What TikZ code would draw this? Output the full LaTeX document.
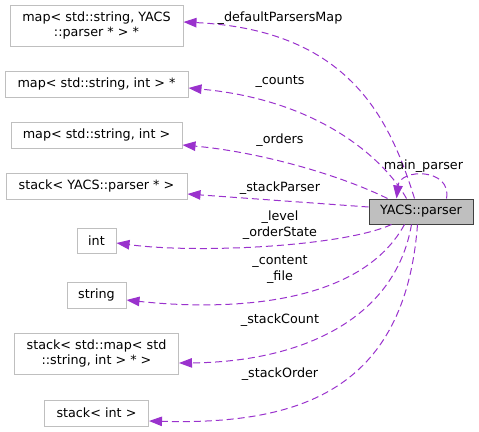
\documentclass[tikz,border=0pt]{standalone}
\usepackage{fontspec}
\setmainfont{DejaVu Sans}
\usetikzlibrary{arrows.meta, positioning}
\definecolor{edgePurple}{HTML}{9A32CD}
\definecolor{boxGray}{HTML}{BFBFBF}
\definecolor{boxDark}{HTML}{404040}

\begin{document}
\begin{tikzpicture}[x=1pt, y=-1pt,
    docfont/.style={font=\fontsize{12.75}{15.5}\selectfont},
    classnode/.style={rectangle, draw=boxGray, line width=1pt, inner sep=0pt,
                      align=center, docfont},
    mainnode/.style={classnode, draw=boxDark, fill=boxGray},
    memberedge/.style={draw=edgePurple, line width=1pt,
                       dash pattern=on 7pt off 4pt,
                       -{Triangle[length=13pt, width=9.5pt, fill=edgePurple]}},
    edgelabel/.style={docfont, inner sep=0pt, align=center},
  ]
    \useasboundingbox (0,0) rectangle (479,431);

    % ─── Member types (left column) ───
    \node[classnode, minimum width=173pt, minimum height=41pt] (mapDef) at (96.5, 25.5)
      {map< std::string, YACS\\::parser * > *};
    \node[classnode, minimum width=183pt, minimum height=26pt] (mapPtr) at (96.5, 84) {map< std::string, int > *};
    \node[classnode, minimum width=171pt, minimum height=26pt] (mapInt) at (96.5, 135) {map< std::string, int >};
    \node[classnode, minimum width=181pt, minimum height=26pt] (stackParser) at (96.5, 186) {stack< YACS::parser * >};
    \node[classnode, minimum width=39pt, minimum height=25pt] (intType) at (96.5, 240.5) {int};
    \node[classnode, minimum width=59pt, minimum height=26pt] (stringType) at (96.5, 295) {string};
    \node[classnode, minimum width=164pt, minimum height=41pt] (stackMap) at (96.5, 353.5)
      {stack< std::map< std\\::string, int > * >};
    \node[classnode, minimum width=104pt, minimum height=26pt] (stackInt) at (96.5, 413) {stack< int >};

    % ─── The class itself ───
    \node[mainnode, minimum width=104pt, minimum height=25pt] (parser) at (421, 211.5) {YACS::parser};

    % ─── Edges from the top of the class ───
    \draw[memberedge] ([xshift=46pt]parser.north west) .. controls (390,120) and (350,30) .. ([yshift=3.5pt]mapDef.east);
    \draw[memberedge] ([xshift=38pt]parser.north west) .. controls (385,160) and (320,100) .. ([yshift=-4pt]mapPtr.east);
    \draw[memberedge] ([xshift=19pt]parser.north west) .. controls (340,175) and (260,152) .. ([yshift=-10pt]mapInt.east);
    \draw[memberedge] ([yshift=4.5pt]parser.west) -- ([yshift=-8pt]stackParser.east);
    \draw[memberedge] ([xshift=78pt]parser.north west) .. controls (452,168) and (400,168) .. ([xshift=28pt]parser.north west);

    % ─── Edges from the bottom of the class ───
    \draw[memberedge] ([xshift=23pt]parser.south west) .. controls (345,246) and (200,254) .. ([yshift=-2.5pt]intType.east);
    \draw[memberedge] ([xshift=36pt]parser.south west) .. controls (355,315) and (200,308) .. ([yshift=-5pt]stringType.east);
    \draw[memberedge] ([xshift=43pt]parser.south west) .. controls (395,320) and (300,362) .. ([yshift=-9.5pt]stackMap.east);
    \draw[memberedge] ([xshift=49pt]parser.south west) .. controls (405,390) and (300,425) .. ([yshift=-8pt]stackInt.east);

    % ─── Member names ───
    \node[edgelabel] (lblDef) at (280, 18) {\_defaultParsersMap};
    \node[edgelabel] (lblCounts) at (280, 82) {\_counts};
    \node[edgelabel] (lblOrders) at (280, 140) {\_orders};
    \node[edgelabel] (lblStackP) at (280, 188) {\_stackParser};
    \node[edgelabel] (lblMain) at (423.5, 166) {main\_parser};
    \node[edgelabel] (lblLevel) at (280, 225) {\_level\\\_orderState};
    \node[edgelabel] (lblContent) at (280, 269.5) {\_content\\\_file};
    \node[edgelabel] (lblStackC) at (280, 320) {\_stackCount};
    \node[edgelabel] (lblStackO) at (280, 374) {\_stackOrder};
  \end{tikzpicture}
\end{document}
